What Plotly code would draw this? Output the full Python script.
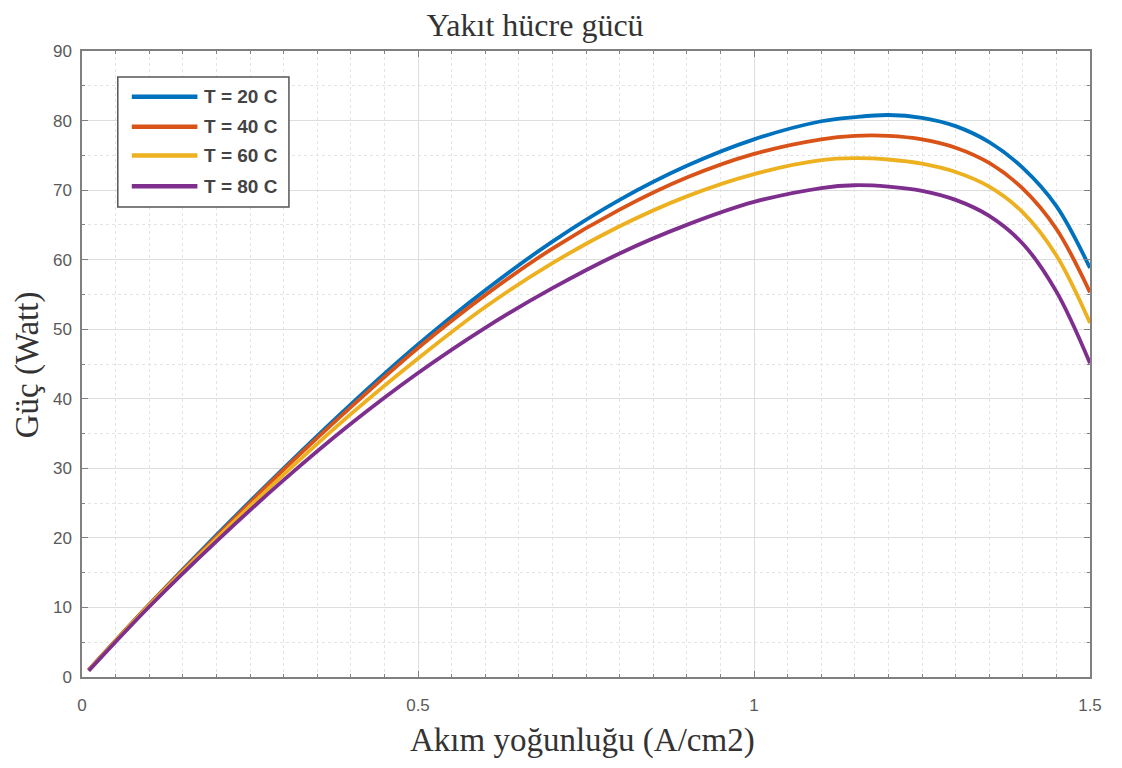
import plotly.graph_objects as go

# Current density (A/cm2)
current = [0.01, 0.1, 0.2, 0.3, 0.4, 0.5, 0.6, 0.7, 0.8, 0.9, 1.0, 1.1, 1.15, 1.2, 1.25, 1.3, 1.35, 1.4, 1.45, 1.5]

# Power (W) for each temperature
p_20 = [1.0, 10.4, 20.4, 30.0, 39.2, 47.8, 55.6, 62.6, 68.6, 73.5, 77.3, 79.9, 80.5, 80.8, 80.4, 79.2, 76.9, 73.2, 67.7, 58.8]
p_40 = [1.0, 10.4, 20.2, 29.8, 38.8, 47.3, 54.9, 61.6, 67.2, 71.8, 75.2, 77.3, 77.8, 77.8, 77.3, 76.1, 73.9, 70.2, 64.4, 55.3]
p_60 = [0.95, 10.3, 19.9, 29.1, 37.8, 45.8, 53.2, 59.5, 64.8, 69.1, 72.3, 74.3, 74.6, 74.4, 73.8, 72.6, 70.5, 66.8, 60.6, 50.9]
p_80 = [0.9, 10.1, 19.5, 28.3, 36.4, 43.7, 50.2, 55.9, 60.9, 65.0, 68.3, 70.3, 70.7, 70.5, 69.9, 68.6, 66.3, 62.3, 55.4, 45.1]

series_names = ["T = 20 C", "T = 40 C", "T = 60 C", "T = 80 C"]
series_values = [p_20, p_40, p_60, p_80]
colors = ["#0072BD", "#D95319", "#EDB120", "#7E2F8E"]

x_ticks = [0, 0.5, 1, 1.5]
x_tick_labels = ["0", "0.5", "1", "1.5"]
y_ticks = [0, 10, 20, 30, 40, 50, 60, 70, 80, 90]

SERIF = "Liberation Serif, Times New Roman, serif"
SANS = "Liberation Sans, Arial, sans-serif"

fig = go.Figure()
for name, vals, col in zip(series_names, series_values, colors):
    fig.add_trace(go.Scatter(
        x=current, y=vals, name=name, mode="lines",
        line=dict(color=col, width=3.8, shape="spline", smoothing=1.0),
        showlegend=False,
    ))

axis_common = dict(
    showline=True, linecolor="#808080", linewidth=1.5, mirror="allticks",
    ticks="inside", ticklen=6, tickcolor="#808080", tickwidth=1,
    showgrid=True, gridcolor="#dedede", gridwidth=1,
    zeroline=False,
    tickfont=dict(family=SANS, size=17, color="#5a5a5a"),
)

fig.update_xaxes(
    range=[0, 1.5], tickvals=x_ticks, ticktext=x_tick_labels,
    ticklabelstandoff=12,
    minor=dict(dtick=0.05, showgrid=True, gridcolor="#e4e4e4", griddash="dot",
               ticks="inside", ticklen=3, tickcolor="#808080"),
    **axis_common,
)
fig.update_yaxes(
    range=[0, 90], tickvals=y_ticks,
    ticklabelstandoff=5,
    minor=dict(dtick=5, showgrid=True, gridcolor="#e4e4e4", griddash="dot",
               ticks="inside", ticklen=3, tickcolor="#808080"),
    **axis_common,
)

# Axis titles
fig.add_annotation(text="Akım yoğunluğu (A/cm2)", xref="paper", yref="paper",
                   x=0.4965, y=0, yanchor="middle", yshift=-63, showarrow=False,
                   font=dict(family=SERIF, size=33, color="#333333"))
fig.add_annotation(text="Güç (Watt)", xref="paper", yref="paper",
                   x=0, y=0.498, xanchor="center", xshift=-55, textangle=-90, showarrow=False,
                   font=dict(family=SERIF, size=33, color="#333333"))

# Legend (MATLAB-style box)
leg_x0, leg_x1, leg_y0, leg_y1 = 0.0355, 0.2053, 0.7508, 0.9585
fig.add_shape(type="rect", xref="paper", yref="paper", x0=leg_x0, x1=leg_x1, y0=leg_y0, y1=leg_y1,
              line=dict(color="#555555", width=1.5), fillcolor="white", layer="above")
row_y = [0.927, 0.879, 0.833, 0.784]
for name, col, ry in zip(series_names, colors, row_y):
    fig.add_shape(type="line", xref="paper", yref="paper", x0=0.0494, x1=0.1145, y0=ry, y1=ry,
                  line=dict(color=col, width=4.5), layer="above")
    fig.add_annotation(text=name, xref="paper", yref="paper", x=0.1194, y=ry,
                       xanchor="left", yanchor="middle", showarrow=False,
                       font=dict(family=SANS, size=19, color="#444444", weight="bold"))

fig.update_layout(
    width=1106, height=752,
    margin=dict(l=74, r=19, t=43, b=83),
    paper_bgcolor="white", plot_bgcolor="white",
    title=dict(text="Yakıt hücre gücü", xref="container", x=0.4765, xanchor="center",
               y=0.978, yanchor="middle",
               font=dict(family=SERIF, size=32, color="#333333")),
    showlegend=False,
)

fig.write_html("out.html")
